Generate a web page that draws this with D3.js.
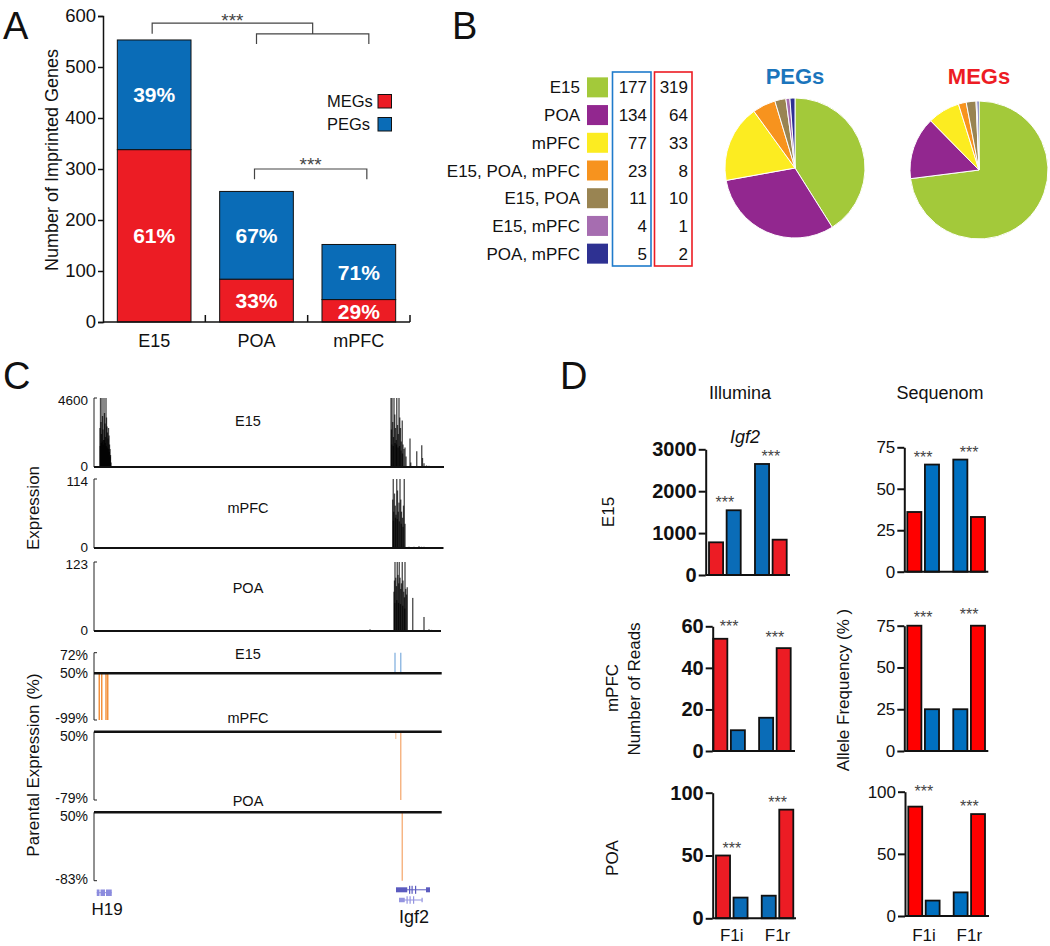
<!DOCTYPE html>
<html><head><meta charset="utf-8">
<script src="https://cdn.jsdelivr.net/npm/d3@7"></script>
<style>
body{margin:0;background:#fff}
svg{display:block}
text{font-family:"Liberation Sans",Arial,sans-serif;fill:#111}
</style></head><body>
<svg id="fig" width="1050" height="946"></svg>
<script>
// ================= DATA =================
// Panel A
const aRegions = ["E15","POA","mPFC"];
const aMEG = [338, 84, 44];
const aPEG = [215, 172, 108];
const aMEGpct = ["61%","33%","29%"];
const aPEGpct = ["39%","67%","71%"];
const aTicks = [0,100,200,300,400,500,600];
const aLegend = ["MEGs","PEGs"];

// Panel B
const bCategories = ["E15","POA","mPFC","E15, POA, mPFC","E15, POA","E15, mPFC","POA, mPFC"];
const bPEG = [177,134,77,23,11,4,5];
const bMEG = [319,64,33,8,10,1,2];
const bColors = ["#a3c93a","#92278f","#fcec21","#f7931e","#998452","#a66db0","#2e3192"];

// Panel C  (position in kb, value)
const cExprE15 = [[2.4,2600],[2.6,4800],[2.8,3000],[3.0,2200],[3.2,4800],[3.4,3400],[3.6,2500],[3.8,1800],[4.0,4800],[4.2,3600],[4.4,2900],[4.6,2000],[4.8,4800],[5.0,3300],[5.2,2700],[5.4,2300],[5.6,1900],[5.8,2600],[6.0,2100],[6.2,1500],[6.4,1200],[6.6,800],[6.8,300],
  [2.5,1400],[2.9,1600],[3.3,1700],[3.7,1500],[4.1,1800],[4.5,1600],[4.9,1400],[5.3,1300],[5.7,1200],[6.1,1000],[6.5,700],
  [118.8,4800],[119.0,2500],[119.2,4800],[119.5,3000],[119.8,2000],[120.0,4800],[120.3,3500],[120.6,2600],[120.9,1800],[121.1,4800],[121.4,2800],[121.7,2200],[122.0,4800],[122.3,3300],[122.6,2600],[122.9,1700],[123.3,3100],[123.6,1500],[124.0,1200],[124.4,1300],[124.8,700],[126.4,1900],[126.7,300],[129.1,1050],[131.1,1450],[131.4,600],[132.0,250],[133.0,100],[134.0,80],[135.0,50],
  [119.1,1500],[119.7,1400],[120.4,1600],[121.0,1500],[121.6,1300],[122.2,1400],[122.8,1100],[123.4,900]];
const cExprMPFC = [[119.5,80],[119.7,125],[119.9,60],[120.2,90],[120.5,70],[120.8,55],[121.1,125],[121.4,95],[121.7,60],[122.0,75],[122.4,125],[122.7,80],[123.0,60],[123.4,50],[123.8,70],[124.1,125],[124.4,40],[126,2],[128,2],[130,3],[131,2],[132,2],
  [119.8,45],[120.6,50],[121.3,48],[122.1,44],[122.9,40],[123.6,35]];
const cExprPOA = [[120.0,70],[120.2,90],[120.4,130],[120.7,95],[121.0,80],[121.3,130],[121.6,100],[121.9,85],[122.1,130],[122.4,95],[122.7,75],[123.0,85],[123.3,130],[123.6,90],[123.9,70],[124.2,60],[124.4,130],[124.7,75],[125.0,65],[125.3,78],[127.5,59],[132.0,25],[110.4,3],[134,3],[135,2],
  [120.3,50],[121.1,55],[121.8,50],[122.6,48],[123.5,45],[124.3,40]];
const cExprMax = [4600,114,123];
const cTrackNames = ["E15","mPFC","POA"];
const cParE15Mat = [[2.1,-99],[3.1,-99],[4.8,-99],[5.5,-99]];
const cParE15Pat = [[120.4,72],[122.7,72]];
const cParMPFCMat = [[120.7,36],[122.7,-79]];
const cParPOAMat = [[123.3,-83]];
const cParTicks = [[-99,50,72],[-79,50],[-83,50]];
const h19Exons = [[1.1,2.2],[2.6,4.4],[4.8,7.1]];
const igf2Tx1 = [[120.8,125.3],[126.0,126.5],[127.0,127.4],[128.4,128.8],[132.8,134.4]];
const igf2Tx2 = [[122.0,124.3],[125.0,125.4],[126.2,126.6],[127.6,128.0],[131.0,131.3]];

// Panel D
const dGroups = ["F1i","F1r"];
const dBarKind = ["m","p","p","m"];
const illE15 = [780,1545,2650,843];
const illMPFC = [54,10,16,49.5];
const illPOA = [50,16.5,18,86.5];
const seqE15 = [36,64.6,67.6,33];
const seqMPFC = [75,25,25,75];
const seqPOA = [88,12.4,19,82];
const illTicks = [[0,1000,2000,3000],[0,20,40,60],[0,50,100]];
const seqTicks = [[0,25,50,75],[0,25,50,75],[0,50,100]];

// ================= DRAW =================
const svg = d3.select("#fig");
const RED = "#ec1c24", BLUE = "#0a6cb7";

function panelLabel(t,x,y){ svg.append("text").attr("x",x).attr("y",y).attr("font-size",38).text(t); }
panelLabel("A",3,39); panelLabel("B",452,39); panelLabel("C",3,389); panelLabel("D",560,389);

// ---------- Panel A ----------
{
  const g = svg.append("g");
  const x = d3.scaleBand().domain(aRegions).range([103,410]).paddingInner(0.28).paddingOuter(0.14);
  const y = d3.scaleLinear().domain([0,600]).range([322,16]);
  const bw = x.bandwidth();
  aRegions.forEach((r,i)=>{
    g.append("rect").attr("x",x(r)).attr("width",bw).attr("y",y(aMEG[i])).attr("height",y(0)-y(aMEG[i]))
      .attr("fill",RED).attr("stroke","#111").attr("stroke-width",1);
    g.append("rect").attr("x",x(r)).attr("width",bw).attr("y",y(aMEG[i]+aPEG[i])).attr("height",y(aMEG[i])-y(aMEG[i]+aPEG[i]))
      .attr("fill",BLUE).attr("stroke","#111").attr("stroke-width",1);
    const cx = x(r)+bw/2;
    const megMid = (y(0)+y(aMEG[i]))/2 + (aMEG[i] < 60 ? 1 : 0);
    g.append("text").attr("x",cx).attr("y",megMid).attr("dy","0.36em").attr("text-anchor","middle")
      .attr("font-size",21).attr("font-weight","bold").style("fill","#fff").text(aMEGpct[i]);
    g.append("text").attr("x",cx).attr("y",(y(aMEG[i])+y(aMEG[i]+aPEG[i]))/2).attr("dy","0.36em").attr("text-anchor","middle")
      .attr("font-size",21).attr("font-weight","bold").style("fill","#fff").text(aPEGpct[i]);
    g.append("text").attr("x",cx).attr("y",347).attr("text-anchor","middle").attr("font-size",18).text(r);
  });
  const ax = g.append("g").attr("transform","translate(103,0)")
    .call(d3.axisLeft(y).tickValues(aTicks).tickSize(5).tickPadding(2));
  ax.selectAll("text").attr("font-size",18.5).style("font-family","'Liberation Sans',Arial");
  ax.selectAll("path,line").attr("stroke","#111").attr("stroke-width",1.5);
  g.append("line").attr("x1",103).attr("x2",410).attr("y1",y(0)).attr("y2",y(0)).attr("stroke","#111").attr("stroke-width",1.5);
  aRegions.forEach(r=>{
    const bx = x(r)+bw+x.step()*0.14;
    g.append("line").attr("x1",bx).attr("x2",bx).attr("y1",y(0)).attr("y2",y(0)-7).attr("stroke","#111").attr("stroke-width",1.5);
  });
  g.append("text").attr("transform","translate(58,160) rotate(-90)").attr("text-anchor","middle").attr("font-size",18).text("Number of Imprinted Genes");
  // legend
  const legColors = [RED,BLUE];
  aLegend.forEach((t,i)=>{
    const yy = 101 + i*23;
    g.append("text").attr("x",327).attr("y",yy).attr("dy","0.36em").attr("font-size",16.5).text(t);
    g.append("rect").attr("x",378).attr("y",yy-6.5).attr("width",13.5).attr("height",13.5).attr("fill",legColors[i]).attr("stroke","#111").attr("stroke-width",1);
  });
  // significance brackets
  const cE = x("E15")+bw/2-2, cP = x("POA")+bw/2, cM = x("mPFC")+bw/2+10;
  const mid = (cP+cM)/2;
  const br = d3.path();
  br.moveTo(cE,y(565)); br.lineTo(cE,y(586)); br.lineTo(mid,y(586)); br.lineTo(mid,y(565));
  br.moveTo(cP,y(545)); br.lineTo(cP,y(565)); br.lineTo(cM,y(565)); br.lineTo(cM,y(545));
  br.moveTo(cP-2,y(280)); br.lineTo(cP-2,y(300)); br.lineTo(cM-2,y(300)); br.lineTo(cM-2,y(280));
  g.append("path").attr("d",br.toString()).attr("fill","none").attr("stroke","#444").attr("stroke-width",1.2);
  g.append("text").attr("x",(cE+mid)/2).attr("y",27).attr("text-anchor","middle").attr("font-size",19).style("fill","#444").text("***");
  g.append("text").attr("x",(cP+cM)/2-2).attr("y",171).attr("text-anchor","middle").attr("font-size",19).style("fill","#444").text("***");
}

// ---------- Panel B ----------
{
  const g = svg.append("g");
  const y = d3.scaleBand().domain(bCategories).range([73.5,267.5]);
  const h = y.bandwidth();
  bCategories.forEach((c,i)=>{
    const cy = y(c)+h/2;
    g.append("text").attr("x",580).attr("y",cy).attr("dy","0.36em").attr("text-anchor","end").attr("font-size",17).text(c);
    g.append("rect").attr("x",587).attr("y",cy-10).attr("width",21).attr("height",20).attr("fill",bColors[i]);
    g.append("text").attr("x",647).attr("y",cy).attr("dy","0.36em").attr("text-anchor","end").attr("font-size",17).text(bPEG[i]);
    g.append("text").attr("x",688).attr("y",cy).attr("dy","0.36em").attr("text-anchor","end").attr("font-size",17).text(bMEG[i]);
  });
  g.append("rect").attr("x",612.5).attr("y",72).attr("width",38.5).attr("height",194).attr("fill","none").attr("stroke","#1f7bcb").attr("stroke-width",1.6);
  g.append("rect").attr("x",654.5).attr("y",72).attr("width",37.5).attr("height",194).attr("fill","none").attr("stroke","#ed1c24").attr("stroke-width",1.6);

  const pie = d3.pie().sort(null).value(d=>d);
  function drawPie(vals,cx,cy,r,title,tcol){
    const arc = d3.arc().innerRadius(0).outerRadius(r);
    const pg = svg.append("g").attr("transform",`translate(${cx},${cy})`);
    pg.selectAll("path").data(pie(vals)).join("path").attr("d",arc)
      .attr("fill",(d,i)=>bColors[i]).attr("stroke","#fff").attr("stroke-width",1);
    svg.append("text").attr("x",cx).attr("y",84).attr("text-anchor","middle").attr("font-size",22).attr("font-weight","bold").style("fill",tcol).text(title);
  }
  drawPie(bPEG,795,168,70,"PEGs","#1b75bc");
  drawPie(bMEG,979,170,69,"MEGs","#ed1c24");
}

// ---------- Panel C ----------
{
  const x = d3.scaleLinear().domain([0,140]).range([94,444]);
  const tracks = [
    {data:cExprE15, top:398, base:467, end:444, nameY:421},
    {data:cExprMPFC, top:479, base:548, end:443.5, nameY:508},
    {data:cExprPOA, top:562, base:631, end:441, nameY:588}
  ];
  tracks.forEach((t,i)=>{
    const g = svg.append("g");
    const y = d3.scaleLinear().domain([0,cExprMax[i]]).range([t.base,t.top]).clamp(true);
    g.selectAll("rect").data(t.data).join("rect")
      .attr("x",d=>x(d[0])-0.65).attr("width",1.3)
      .attr("y",d=>y(d[1])).attr("height",d=>t.base-y(d[1]))
      .attr("fill","#000").attr("fill-opacity",0.72);
    g.append("path").attr("d",`M${x(0)+3},${t.top}H${x(0)}V${t.base}`).attr("fill","none").attr("stroke","#222").attr("stroke-width",1);
    g.append("line").attr("x1",x(0)).attr("x2",t.end).attr("y1",t.base).attr("y2",t.base).attr("stroke","#111").attr("stroke-width",2);
    [0,cExprMax[i]].forEach(v=>{
      const yy = y(v) + (v===0 ? -1 : 2);
      g.append("text").attr("x",88).attr("y",yy).attr("dy","0.36em").attr("text-anchor","end").attr("font-size",13.5).text(v);
    });
    g.append("text").attr("x",248).attr("y",t.nameY).attr("dy","0.36em").attr("text-anchor","middle").attr("font-size",14.5).text(cTrackNames[i]);
  });
  svg.append("text").attr("transform","translate(39,508) rotate(-90)").attr("text-anchor","middle").attr("font-size",17).text("Expression");

  // parental expression tracks
  const ptracks = [
    {dom:[-99,50,72], rng:[720,673.3,652.7], mat:cParE15Mat, pat:cParE15Pat, matCol:"#f28c33", nameY:654},
    {dom:[-79,50], rng:[800,731.7], mat:cParMPFCMat, pat:[], matCol:"#f6b27e", nameY:718},
    {dom:[-83,50], rng:[880.7,812.3], mat:cParPOAMat, pat:[], matCol:"#f6b27e", nameY:800.5}
  ];
  ptracks.forEach((t,i)=>{
    const g = svg.append("g");
    const y = d3.scaleLinear().domain(t.dom).range(t.rng);
    const base = y(50), top = d3.min(t.rng), bot = d3.max(t.rng);
    g.append("path").attr("d",`M${x(0)+3},${top}H${x(0)}V${bot}H${x(0)+3}`).attr("fill","none").attr("stroke","#222").attr("stroke-width",1);
    g.selectAll("line.m").data(t.mat).join("line").attr("class","m")
      .attr("x1",d=>x(d[0])).attr("x2",d=>x(d[0])).attr("y1",base).attr("y2",d=>y(d[1]))
      .attr("stroke",(d,j)=> (i===1 && j===0) ? "#f9cfae" : t.matCol).attr("stroke-width",1.4);
    g.selectAll("line.p").data(t.pat).join("line").attr("class","p")
      .attr("x1",d=>x(d[0])).attr("x2",d=>x(d[0])).attr("y1",base).attr("y2",d=>y(d[1]))
      .attr("stroke","#8fb8e2").attr("stroke-width",1.4);
    g.append("line").attr("x1",x(0)).attr("x2",441.7).attr("y1",base).attr("y2",base).attr("stroke","#111").attr("stroke-width",2.5);
    cParTicks[i].forEach(v=>{
      let yy = y(v);
      if (v===50 && i>0) yy += 4;
      if (v<0) yy -= 2;
      if (v===72) yy += 2;
      g.append("text").attr("x",88).attr("y",yy).attr("dy","0.36em").attr("text-anchor","end").attr("font-size",14).text(v+"%");
    });
    g.append("text").attr("x",248).attr("y",t.nameY).attr("dy","0.36em").attr("text-anchor","middle").attr("font-size",14.5).text(cTrackNames[i]);
  });
  svg.append("text").attr("transform","translate(39,765) rotate(-90)").attr("text-anchor","middle").attr("font-size",17).text("Parental Expression (%)");

  // gene models
  const gm = svg.append("g");
  gm.selectAll("rect.h").data(h19Exons).join("rect").attr("class","h")
    .attr("x",d=>x(d[0])).attr("width",d=>x(d[1])-x(d[0])).attr("y",889.5).attr("height",6.5).attr("fill","#8c8cde");
  gm.append("line").attr("x1",x(h19Exons[0][0])).attr("x2",x(h19Exons[2][1])).attr("y1",892.7).attr("y2",892.7).attr("stroke","#8c8cde").attr("stroke-width",1);
  function tx(ex,yc,col,th){
    gm.append("line").attr("x1",x(ex[0][0])).attr("x2",x(ex[ex.length-1][1])).attr("y1",yc).attr("y2",yc).attr("stroke",col).attr("stroke-width",1);
    gm.selectAll(null).data(ex).join("rect")
      .attr("x",d=>x(d[0])).attr("width",d=>Math.max(1.2,x(d[1])-x(d[0])))
      .attr("y",(d,j)=> yc - ((j===0||j===ex.length-1)?th/2:th/2+1.5))
      .attr("height",(d,j)=> (j===0||j===ex.length-1)?th:th+3).attr("fill",col);
  }
  tx(igf2Tx1,889.8,"#5b5bbf",5);
  tx(igf2Tx2,900,"#9494e0",4.5);
  svg.append("text").attr("x",107).attr("y",915).attr("text-anchor","middle").attr("font-size",17).text("H19");
  svg.append("text").attr("x",414).attr("y",923).attr("text-anchor","middle").attr("font-size",18).text("Igf2");
}

// ---------- Panel D ----------
{
  const IRED="#ec1c24", IBLUE="#0a6cb7", SRED="#ff0000", SBLUE="#0070c0";
  function dChart(vals, ticks, cfg, bold, red, blue, xlabels){
    const g = svg.append("g");
    const y = d3.scaleLinear().domain([0,ticks[ticks.length-1]]).range([cfg.y0,cfg.yTop]).clamp(true);
    const xg = d3.scaleBand().domain(dGroups).range([cfg.bx0,cfg.bx1]).paddingInner(0.31);
    const xi = d3.scaleBand().domain([0,1]).range([0,xg.bandwidth()]).paddingInner(0.2);
    const bars = vals.map((v,i)=>({grp:dGroups[Math.floor(i/2)], k:i%2, v, kind:dBarKind[i]}));
    g.selectAll("rect").data(bars).join("rect")
      .attr("x",d=>xg(d.grp)+xi(d.k)).attr("width",xi.bandwidth())
      .attr("y",d=>y(d.v)).attr("height",d=>cfg.y0-y(d.v))
      .attr("fill",d=>d.kind==="m"?red:blue).attr("stroke","#111").attr("stroke-width",1.8);
    const ax = g.append("g").attr("transform",`translate(${cfg.ax},0)`)
      .call(d3.axisLeft(y).tickValues(ticks).tickFormat(d3.format("d")).tickSize(7).tickPadding(2).tickSizeOuter(0));
    ax.selectAll("path,line").attr("stroke","#111").attr("stroke-width",2);
    ax.selectAll("text").attr("font-size",bold?20:17).attr("font-weight",bold?"bold":"normal")
      .style("font-family","'Liberation Sans',Arial").style("fill","#111");
    g.append("line").attr("x1",cfg.ax).attr("x2",cfg.xEnd).attr("y1",cfg.y0).attr("y2",cfg.y0).attr("stroke","#111").attr("stroke-width",2);
    dGroups.forEach((grp,j)=>{
      const m = Math.max(vals[2*j],vals[2*j+1]);
      g.append("text").attr("x",xg(grp)+xg.bandwidth()/2).attr("y",y(m)-2+(cfg.starDy?cfg.starDy[j]:0))
        .attr("text-anchor","middle").attr("font-size",16).style("fill","#444").text("***");
      if (xlabels) g.append("text").attr("x",xg(grp)+xg.bandwidth()/2).attr("y",941).attr("text-anchor","middle").attr("font-size",17).text(grp);
    });
  }
  dChart(illE15, illTicks[0], {ax:705.7,xEnd:790,y0:575,yTop:449.3,bx0:709,bx1:786.7}, true, IRED, IBLUE, false);
  dChart(illMPFC, illTicks[1], {ax:712.7,xEnd:795,y0:751,yTop:626.3,bx0:713.3,bx1:790.7,starDy:[-5,-3]}, true, IRED, IBLUE, false);
  dChart(illPOA, illTicks[2], {ax:712.7,xEnd:796,y0:918.3,yTop:792.7,bx0:716,bx1:793.3}, true, IRED, IBLUE, true);
  dChart(seqE15, seqTicks[0], {ax:904.3,xEnd:988.3,y0:571.7,yTop:447.3,bx0:907.3,bx1:985}, false, SRED, SBLUE, false);
  dChart(seqMPFC, seqTicks[1], {ax:904.3,xEnd:988.3,y0:751,yTop:625.7,bx0:907.3,bx1:985,starDy:[-1,-4]}, false, SRED, SBLUE, false);
  dChart(seqPOA, seqTicks[2], {ax:905,xEnd:989,y0:916,yTop:791.7,bx0:908.3,bx1:985,starDy:[-8,0]}, false, SRED, SBLUE, true);

  function rot(t,x,y,fs){ svg.append("text").attr("transform",`translate(${x},${y}) rotate(-90)`).attr("dy","0.36em").attr("text-anchor","middle").attr("font-size",fs).text(t); }
  rot("E15",608,512,17); rot("mPFC",611.5,688,17); rot("Number of Reads",634,689,17); rot("POA",611.5,858,17);
  rot("Allele Frequency  (% )",843,690,17);
  svg.append("text").attr("x",740).attr("y",399).attr("text-anchor","middle").attr("font-size",18).text("Illumina");
  svg.append("text").attr("x",940).attr("y",399).attr("text-anchor","middle").attr("font-size",18).text("Sequenom");
  svg.append("text").attr("x",745).attr("y",443).attr("text-anchor","middle").attr("font-size",18).attr("font-style","italic").text("Igf2");
}
</script>
</body></html>
